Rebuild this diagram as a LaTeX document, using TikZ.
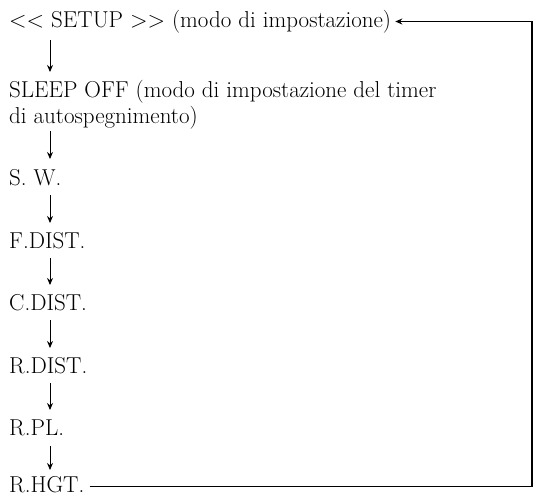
\documentclass[tikz,border=0pt]{standalone}
\usetikzlibrary{arrows.meta}
\begin{document}
\begin{tikzpicture}[x=1pt,y=-1pt]
\tikzset{libelle/.style={anchor=base west, inner sep=0pt, text height=12pt, text depth=1pt, font=\fontsize{23}{27}\selectfont}}
\tikzset{fleche/.style={-{Stealth[length=7pt,width=6pt]}, line width=1pt}}
\useasboundingbox (0,0) rectangle (534,498);
\node[libelle] (setup) at (9,27) {<\kern0pt< SETUP >\kern0pt> (modo di impostazione)};
\node[libelle] (sleep) at (9,97) {SLEEP OFF (modo di impostazione del timer};
\node[libelle] (sleepb) at (9,123) {di autospegnimento)};
\node[libelle] (sw) at (9,185) {S. W.};
\node[libelle] (fdist) at (9,248) {F.DIST.};
\node[libelle] (cdist) at (9,310) {C.DIST.};
\node[libelle] (rdist) at (9,373) {R.DIST.};
\node[libelle] (rpl) at (9,435) {R.PL.};
\node[libelle] (rhgt) at (9,492) {R.HGT.};
\coordinate (coin) at (532,487);
\draw[fleche] ([xshift=41pt,yshift=-13pt]setup.base west) -- ([xshift=41pt,yshift=25pt]sleep.base west);
\draw[fleche] ([xshift=41pt,yshift=-8pt]sleepb.base west) -- ([xshift=41pt,yshift=26pt]sw.base west);
\draw[fleche] ([xshift=41pt,yshift=-10pt]sw.base west) -- ([xshift=41pt,yshift=25pt]fdist.base west);
\draw[fleche] ([xshift=41pt,yshift=-10pt]fdist.base west) -- ([xshift=41pt,yshift=25pt]cdist.base west);
\draw[fleche] ([xshift=41pt,yshift=-10pt]cdist.base west) -- ([xshift=41pt,yshift=25pt]rdist.base west);
\draw[fleche] ([xshift=41pt,yshift=-10pt]rdist.base west) -- ([xshift=41pt,yshift=25pt]rpl.base west);
\draw[fleche] ([xshift=41pt,yshift=-11pt]rpl.base west) -- ([xshift=41pt,yshift=22pt]rhgt.base west);
\draw[fleche, line width=1.4pt] ([xshift=5pt]rhgt.east) -- (rhgt.east -| coin) |- ([xshift=4pt]setup.east);
\end{tikzpicture}
\end{document}
